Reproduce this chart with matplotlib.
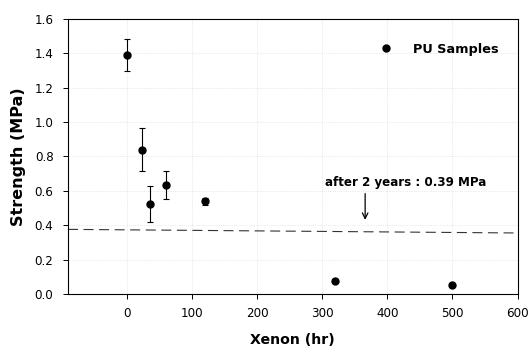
import matplotlib.pyplot as plt

plt.rcParams['font.family'] = ['DejaVu Sans']

# PU samples, strength vs xenon exposure
hours = [0, 24, 36, 60, 120, 320, 500]
strength = [1.39, 0.84, 0.524, 0.635, 0.54, 0.077, 0.05]
strength_err = [0.095, 0.127, 0.105, 0.08, 0.02, 0.0, 0.0]

# reference level after 2 years (scanned line slightly slopes)
ref_x = [-90, 600]
ref_y = [0.376, 0.355]

fig = plt.figure(figsize=(5.29, 3.49), dpi=100)
ax = fig.add_axes([0.1285, 0.1576, 0.85, 0.788])

ax.grid(True, color='#d8d8d8', linestyle=':', linewidth=0.5)
ax.set_axisbelow(True)

ax.errorbar(hours, strength, yerr=strength_err, fmt='none', ecolor='black',
            elinewidth=0.8, capsize=2.5, capthick=0.8)
ax.plot(hours, strength, 'o', color='black', markersize=5, label='PU Samples')

ax.plot(ref_x, ref_y, color='#333333', linestyle=(0, (9, 5)), linewidth=0.8)

ax.annotate('', xy=(366, 0.415), xytext=(366, 0.6),
            arrowprops=dict(arrowstyle='->', color='black', lw=0.9))
ax.text(428, 0.651, 'after 2 years : 0.39 MPa', ha='center', va='center',
        fontsize=8.6, fontweight='bold')

ax.set_xlim(-90, 600)
ax.set_ylim(0, 1.6)
ax.set_xticks([0, 100, 200, 300, 400, 500, 600])
ax.set_yticks([0.0, 0.2, 0.4, 0.6, 0.8, 1.0, 1.2, 1.4, 1.6])
ax.set_yticklabels(['0.0', '0.2', '0.4', '0.6', '0.8', '1.0', '1.2', '1.4', '1.6'])
ax.tick_params(direction='out', length=3.5, width=0.7, labelsize=8.6, pad=7)
ax.tick_params(axis='x', pad=6)

for s in ax.spines.values():
    s.set_linewidth(0.8)

ax.set_xlabel('Xenon (hr)', fontsize=10.2, fontweight='bold', labelpad=9)
ax.set_ylabel('Strength (MPa)', fontsize=11.5, fontweight='bold', labelpad=6)

ax.legend(loc='center left', bbox_to_anchor=(0.681, 0.89), frameon=False,
          prop={'weight': 'bold', 'size': 9.3}, handletextpad=1.6,
          handlelength=1.0, borderaxespad=0)

fig.savefig('out.png', dpi=100)
